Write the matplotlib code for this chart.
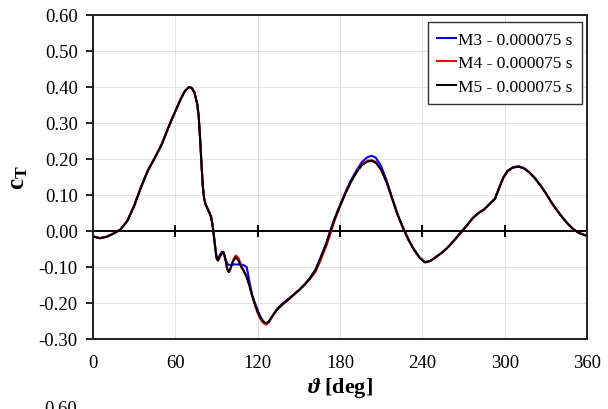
import matplotlib

matplotlib.use("Agg")
import matplotlib.pyplot as plt

# rotor angle [deg]
theta = [0, 5, 10, 15, 20, 25, 30, 35, 40, 45, 50, 55, 60, 64, 67, 70, 72, 74, 76, 77,
         78, 79, 80, 81, 82, 84, 86, 87, 88, 89, 90, 91, 92, 94, 95, 96, 98, 99, 100, 102,
         104, 106, 108, 110, 112, 114, 116, 118, 120, 122, 124, 126, 128, 130, 134, 138,
         142, 146, 150, 154, 158, 162, 166, 170, 173, 176, 180, 184, 188, 192, 196, 200,
         203, 206, 210, 214, 218, 222, 226, 230, 234, 238, 242, 246, 250, 255, 260, 265,
         269, 273, 277, 281, 285, 289, 293, 296, 299, 302, 306, 310, 314, 318, 322, 326,
         330, 334, 338, 342, 346, 350, 354, 358, 360]

ct_m5 = [-0.015, -0.020, -0.016, -0.007, 0.004, 0.028, 0.070, 0.122, 0.168, 0.203,
         0.240, 0.288, 0.333, 0.367, 0.389, 0.400, 0.397, 0.384, 0.352, 0.320,
         0.260, 0.190, 0.125, 0.090, 0.074, 0.058, 0.040, 0.020, -0.010, -0.045,
         -0.075, -0.082, -0.075, -0.060, -0.058, -0.070, -0.108, -0.114, -0.106, -0.085,
         -0.073, -0.082, -0.100, -0.112, -0.128, -0.152, -0.180, -0.204, -0.224, -0.240,
         -0.252, -0.256, -0.252, -0.240, -0.219, -0.204, -0.192, -0.178, -0.165, -0.150,
         -0.132, -0.110, -0.074, -0.035, 0.000, 0.033, 0.070, 0.105, 0.137, 0.163,
         0.183, 0.193, 0.195, 0.190, 0.170, 0.135, 0.090, 0.045, 0.008, -0.025,
         -0.052, -0.074, -0.087, -0.083, -0.072, -0.058, -0.040, -0.018, 0.000, 0.018,
         0.037, 0.050, 0.060, 0.075, 0.090, 0.120, 0.148, 0.166, 0.176, 0.179,
         0.174, 0.163, 0.147, 0.127, 0.105, 0.080, 0.058, 0.038, 0.020, 0.005,
         -0.005, -0.011, -0.013]

ct_m4 = [-0.015, -0.020, -0.016, -0.007, 0.004, 0.028, 0.070, 0.122, 0.168, 0.203,
         0.240, 0.288, 0.333, 0.367, 0.389, 0.400, 0.397, 0.384, 0.352, 0.320,
         0.260, 0.190, 0.125, 0.090, 0.074, 0.058, 0.040, 0.020, -0.010, -0.045,
         -0.075, -0.082, -0.075, -0.060, -0.058, -0.070, -0.108, -0.114, -0.106, -0.082,
         -0.068, -0.075, -0.095, -0.112, -0.128, -0.152, -0.180, -0.206, -0.228, -0.245,
         -0.255, -0.260, -0.254, -0.241, -0.219, -0.204, -0.192, -0.178, -0.165, -0.150,
         -0.134, -0.114, -0.080, -0.042, -0.008, 0.028, 0.068, 0.105, 0.137, 0.164,
         0.185, 0.195, 0.197, 0.192, 0.171, 0.135, 0.090, 0.045, 0.008, -0.025,
         -0.052, -0.074, -0.087, -0.083, -0.072, -0.058, -0.040, -0.018, 0.000, 0.018,
         0.037, 0.050, 0.060, 0.075, 0.090, 0.120, 0.148, 0.166, 0.176, 0.179,
         0.174, 0.163, 0.147, 0.127, 0.105, 0.080, 0.058, 0.038, 0.020, 0.005,
         -0.005, -0.011, -0.013]

ct_m3 = [-0.015, -0.020, -0.016, -0.007, 0.004, 0.028, 0.070, 0.122, 0.168, 0.203,
         0.240, 0.288, 0.333, 0.367, 0.389, 0.400, 0.397, 0.384, 0.352, 0.320,
         0.260, 0.190, 0.125, 0.090, 0.074, 0.058, 0.040, 0.020, -0.010, -0.042,
         -0.070, -0.078, -0.070, -0.058, -0.060, -0.072, -0.092, -0.094, -0.094, -0.093,
         -0.093, -0.093, -0.093, -0.095, -0.100, -0.140, -0.178, -0.200, -0.220, -0.238,
         -0.250, -0.257, -0.254, -0.241, -0.217, -0.202, -0.190, -0.177, -0.164, -0.149,
         -0.131, -0.108, -0.072, -0.034, 0.001, 0.034, 0.072, 0.108, 0.141, 0.168,
         0.192, 0.205, 0.209, 0.204, 0.180, 0.140, 0.092, 0.046, 0.008, -0.025,
         -0.052, -0.074, -0.087, -0.083, -0.072, -0.058, -0.040, -0.018, 0.000, 0.018,
         0.037, 0.050, 0.060, 0.075, 0.090, 0.120, 0.148, 0.167, 0.177, 0.180,
         0.175, 0.163, 0.147, 0.127, 0.105, 0.080, 0.058, 0.038, 0.020, 0.005,
         -0.005, -0.011, -0.013]

series = [
    ("M3 - 0.000075 s", ct_m3, "#0000ff"),
    ("M4 - 0.000075 s", ct_m4, "#ff0000"),
    ("M5 - 0.000075 s", ct_m5, "#000000"),
]

x_ticks = [0, 60, 120, 180, 240, 300, 360]
y_ticks = [-0.30, -0.20, -0.10, 0.00, 0.10, 0.20, 0.30, 0.40, 0.50, 0.60]

plt.rcParams["font.family"] = ["Liberation Serif", "DejaVu Serif"]
plt.rcParams["mathtext.fontset"] = "custom"
plt.rcParams["mathtext.rm"] = "Liberation Serif"
plt.rcParams["mathtext.it"] = "Liberation Serif:italic:bold"
plt.rcParams["mathtext.bf"] = "Liberation Serif:bold"

fig = plt.figure(figsize=(6.08, 4.10), dpi=100)
ax = fig.add_axes([93 / 608, 1 - 340 / 410, 494 / 608, 324 / 410])

for label, vals, color in series:
    ax.plot(theta, vals, color=color, linewidth=1.5, label=label)

# x axis drawn through zero, with its tick marks
ax.axhline(0, color="black", linewidth=1.4, zorder=1.5)
ax.plot(x_ticks[1:-1], [0] * (len(x_ticks) - 2), ls="none", marker="|",
        markersize=9, markeredgewidth=1.4, color="black", zorder=1.5)

ax.set_xlim(0, 360)
ax.set_ylim(-0.30, 0.60)
ax.set_xticks(x_ticks)
ax.set_yticks(y_ticks)
ax.set_yticklabels([f"{v:.2f}" for v in y_ticks])
ax.tick_params(axis="x", length=0, pad=11, labelsize=13.5)
ax.tick_params(axis="y", direction="out", length=5, width=1.2, pad=6, labelsize=13.5)
ax.grid(True, color="#e2e2e2", linewidth=0.7)
ax.set_axisbelow(True)
for sp in ax.spines.values():
    sp.set_linewidth(1.4)
    sp.set_color("#222222")

ax.set_xlabel(r"$\vartheta$ [deg]", fontsize=16, fontweight="bold", labelpad=3)
ax.set_ylabel(r"$\mathbf{c_T}$", fontsize=18, labelpad=6)

leg = ax.legend(loc="upper right", bbox_to_anchor=(0.99, 0.978), fontsize=12.5,
                handlelength=1.1, handletextpad=0.1, labelspacing=0.42,
                borderpad=0.55, borderaxespad=0, fancybox=False, framealpha=1)
leg.get_frame().set_edgecolor("#333333")
leg.get_frame().set_linewidth(1.0)

# top of the next panel peeking in at the bottom
fig.text(77 / 608, 1 - 401 / 410, "0.60", ha="right", va="top", fontsize=13.5)

fig.savefig("out.png", dpi=100)
